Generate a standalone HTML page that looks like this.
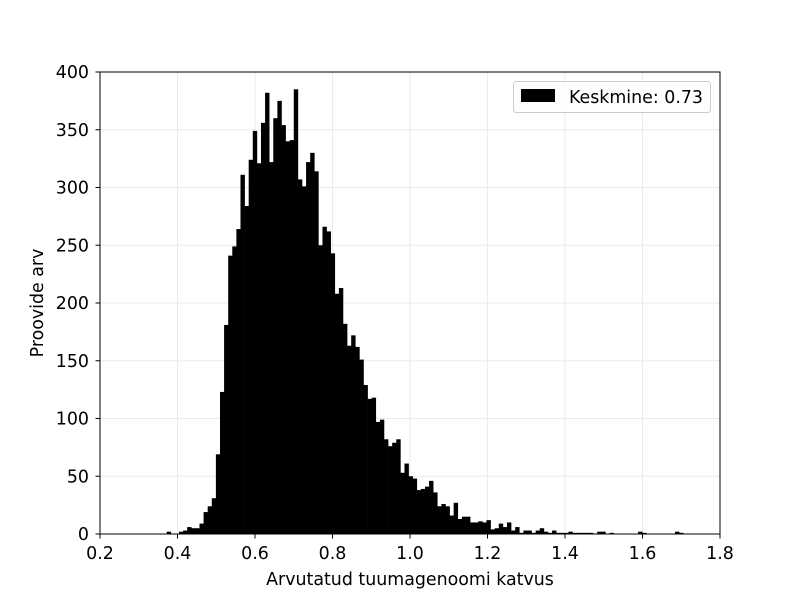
<!DOCTYPE html>
<html><head><meta charset="utf-8"><style>
body{margin:0;background:#fff;}
svg text{font-family:"DejaVu Sans","Liberation Sans",sans-serif;fill:#000;}
</style></head><body>
<svg id="chart" width="800" height="600" viewBox="0 0 800 600" xmlns="http://www.w3.org/2000/svg">
<rect width="800" height="600" fill="#fff"/>
<g id="grid"></g>
<g id="bars"></g>
<rect x="100" y="72" width="620" height="462" fill="none" stroke="#000" stroke-width="1"/>
<g id="xticks"></g>
<g id="yticks"></g>
<text x="410" y="585" font-size="17.4" text-anchor="middle">Arvutatud tuumagenoomi katvus</text>
<text transform="translate(43,303) rotate(-90)" font-size="17.4" text-anchor="middle">Proovide arv</text>
<g>
<rect x="513.5" y="81.5" width="197" height="31" rx="3" fill="#fff" fill-opacity="0.8" stroke="#ccc"/>
<rect x="521" y="89" width="34" height="13" fill="#000"/>
<text x="569" y="103" font-size="17.4">Keskmine: 0.73</text>
</g>
</svg>
<script>
const binStart = 0.3721;
const binWidth = 0.01058;
const counts = [2,0,0,2,3,6,5,5,9,19,24,31,69,123,181,241,249,264,311,284,324,349,321,356,
382,322,360,375,354,340,341,385,307,301,322,330,314,250,266,262,243,208,213,182,163,172,162,151,
129,117,118,97,99,82,76,79,82,53,61,50,48,38,39,41,46,36,24,26,24,16,27,13,15,15,10,10,11,10,12,
4,5,9,6,10,3,6,1,3,3,1,3,5,2,1,3,1,1,1,2,1,1,1,1,1,0,2,2,0,1,0,0,0,0,0,0,2,1,0,0,0,0,0,0,0,2,1];
const xTicks = [0.2,0.4,0.6,0.8,1.0,1.2,1.4,1.6,1.8];
const xTickLabels = ["0.2","0.4","0.6","0.8","1.0","1.2","1.4","1.6","1.8"];
const yTicks = [0,50,100,150,200,250,300,350,400];
const yTickLabels = ["0","50","100","150","200","250","300","350","400"];

const NS="http://www.w3.org/2000/svg";
const X=v=>100+(v-0.2)/1.6*620;
const Y=v=>534-v/400*462;
function mk(t,a,p){const e=document.createElementNS(NS,t);for(const k in a)e.setAttribute(k,a[k]);p.appendChild(e);return e;}
const grid=document.getElementById('grid'),bars=document.getElementById('bars'),xt=document.getElementById('xticks'),yt=document.getElementById('yticks');
xTicks.forEach((v,i)=>{
  const g=mk('line',{x1:X(v),x2:X(v),y1:72,y2:534,stroke:'#ebebeb','stroke-width':1},grid);
  
  
  const t=mk('line',{x1:X(v),x2:X(v),y1:534,y2:538.5,stroke:'#000'},xt);
  
  
  const l=mk('text',{x:X(v),y:559,'font-size':17.4,'text-anchor':'middle'},xt);
  l.textContent=xTickLabels[i];
  
  
});
yTicks.forEach((v,i)=>{
  const g=mk('line',{x1:100,x2:720,y1:Y(v),y2:Y(v),stroke:'#ebebeb','stroke-width':1},grid);
  
  
  const t=mk('line',{x1:95.5,x2:100,y1:Y(v),y2:Y(v),stroke:'#000'},yt);
  
  
  const l=mk('text',{x:89,y:Y(v)+6,'font-size':17.4,'text-anchor':'end'},yt);
  l.textContent=yTickLabels[i];
  
  
});
counts.forEach((c,i)=>{
  if(c<=0)return;
  const x0=X(binStart+i*binWidth),x1=X(binStart+(i+1)*binWidth);
  const b=mk('rect',{x:x0,y:Y(c),width:x1-x0+0.3,height:534-Y(c),fill:'#000'},bars);
  
  
});
</script>
</body></html>
